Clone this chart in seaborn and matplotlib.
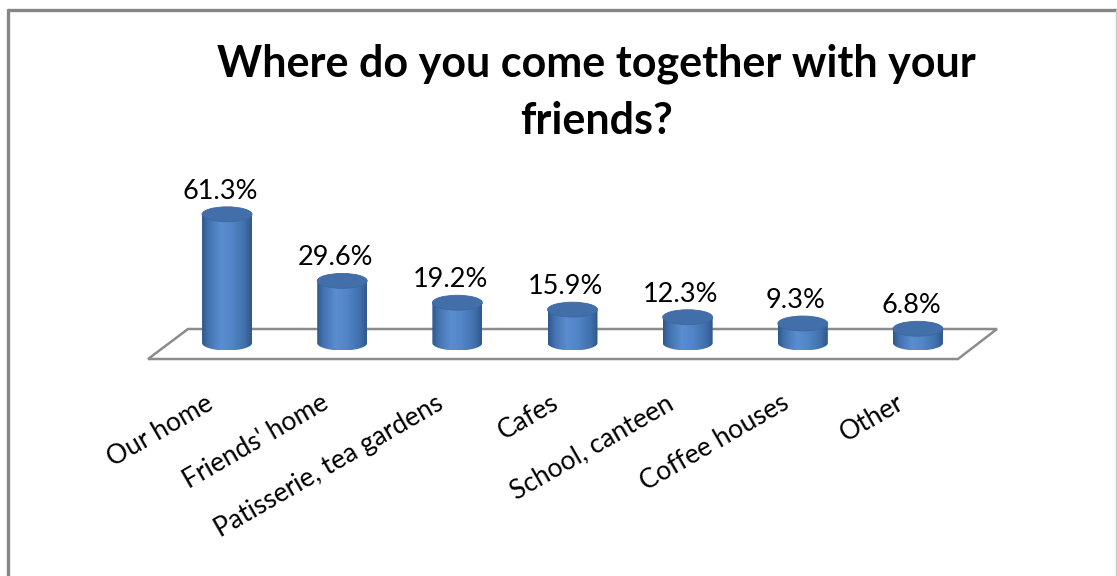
import numpy as np
import matplotlib
matplotlib.use("Agg")
import matplotlib.pyplot as plt
import matplotlib.transforms as mtransforms
import pandas as pd
import seaborn as sns
from matplotlib.colors import LinearSegmentedColormap
from matplotlib.lines import Line2D
from matplotlib.patches import Ellipse, PathPatch, Polygon
from matplotlib.path import Path

# Survey data
categories = ["Our home", "Friends' home", "Patisserie, tea gardens", "Cafes",
              "School, canteen", "Coffee houses", "Other"]
shares = [61.3, 29.6, 19.2, 15.9, 12.3, 9.3, 6.8]
title_text = "Where do you come together with your\nfriends?"

sns.set_theme(style="white")
plt.rcParams["font.family"] = ["Lato", "DejaVu Sans"]

W, H = 1117, 576
fig = plt.figure(figsize=(W / 100, H / 100), dpi=100)
fig.patch.set_facecolor("white")

ax = fig.add_axes([0.1311, 0.3498, 0.7629, 0.3281])
ax.set_facecolor("none")

df = pd.DataFrame({"place": categories, "share": shares})
bar_w = 0.434
sns.barplot(data=df, x="place", y="share", order=categories, width=bar_w,
            color="#4F81BD", saturation=1, ax=ax, zorder=3)

xlim = (-0.7, 6.7)
ylim = (-15, 75)
ell_h = 7.1  # vertical extent of the cylinder caps, in data units

# horizontal shading of the cylinder body
cyl = LinearSegmentedColormap.from_list(
    "cyl",
    [(0.0, "#2E578B"), (0.12, "#4371AE"), (0.38, "#5A8ED1"),
     (0.6, "#5185C8"), (0.86, "#406FAB"), (1.0, "#2F588B")])
grad = np.linspace(0, 1, 256)[np.newaxis, :]

# value labels sit slightly left of the cylinder axis (perspective view)
label_shift = ax.transData + mtransforms.ScaledTranslation(-0.07, 0, fig.dpi_scale_trans)

for p in list(ax.patches):
    x0, w, h = p.get_x(), p.get_width(), p.get_height()
    xc = x0 + w / 2
    p.set_visible(False)
    t = np.linspace(np.pi, 2 * np.pi, 60)
    verts = [(x0, h), (x0, 0)]
    verts += list(zip(xc + w / 2 * np.cos(t), ell_h / 2 * np.sin(t)))
    verts += [(x0 + w, h), (x0, h)]
    body = Path(verts)
    clip = PathPatch(body, transform=ax.transData, facecolor="none", edgecolor="none")
    im = ax.imshow(grad, extent=(x0, x0 + w, -ell_h / 2, h), aspect="auto",
                   cmap=cyl, zorder=3, interpolation="bilinear")
    im.set_clip_path(clip)
    ax.add_patch(Ellipse((xc, h), w, ell_h, facecolor="#426FAA",
                         edgecolor="#3D68A0", lw=0.6, zorder=4))
    ax.text(xc, h + 7.4, f"{h:.1f}%", ha="center", va="baseline",
            fontsize=19.5, color="black", clip_on=False, zorder=5,
            transform=label_shift)

# 3D-style floor under the cylinders
floor = Polygon([(-0.686, -7.62), (6.347, -7.62), (6.686, 6.67), (-0.339, 6.67)],
                closed=True, fill=False, edgecolor="#8C8C8C", lw=1.8, zorder=1)
ax.add_patch(floor)

ax.set_xlim(*xlim)
ax.set_ylim(*ylim)
ax.set_yticks([])
ax.set_xlabel("")
ax.set_ylabel("")
for s in ax.spines.values():
    s.set_visible(False)
ax.tick_params(axis="x", length=0, pad=11.5)
ax.set_xticks(range(len(categories)))
ax.set_xticklabels(categories, rotation=30, ha="right", rotation_mode="anchor",
                   fontsize=19, color="black")
shift = mtransforms.ScaledTranslation(-0.22, 0, fig.dpi_scale_trans)
for lab in ax.get_xticklabels():
    lab.set_transform(lab.get_transform() + shift)

fig.text(596 / W, 1 - 92 / H, title_text, ha="center", va="center",
         fontsize=31, fontweight="bold", color="black", linespacing=1.5)

# chart frame
fig.add_artist(Line2D([7.5 / W, 7.5 / W], [0, 1 - 10 / H], transform=fig.transFigure,
                      color="#868686", lw=2.4))
fig.add_artist(Line2D([7.5 / W, 1116 / W], [1 - 10 / H, 1 - 10 / H], transform=fig.transFigure,
                      color="#868686", lw=2.4))
fig.add_artist(Line2D([1116 / W, 1116 / W], [0, 1 - 10 / H], transform=fig.transFigure,
                      color="#C8C8C8", lw=1.0))

fig.savefig("out.png", dpi=100, facecolor="white")
